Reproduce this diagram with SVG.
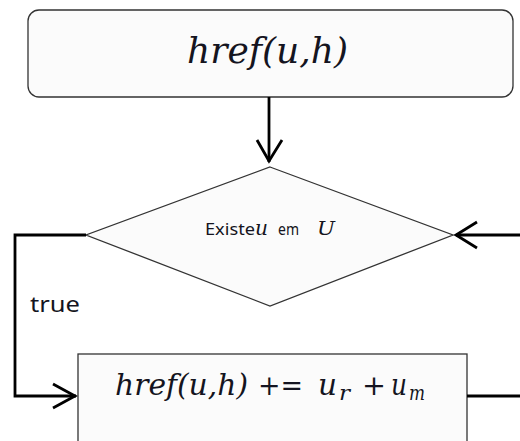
<svg xmlns="http://www.w3.org/2000/svg" width="520" height="441" viewBox="0 0 520 441">
<style>
.shape{fill:#fbfbfb;stroke:#333;stroke-width:1.3}
.conn{fill:none;stroke:#000;stroke-width:2.8;stroke-linejoin:miter}
.head{fill:none;stroke:#000;stroke-width:2.8;stroke-linecap:butt;stroke-linejoin:miter}
.math{font-family:"DejaVu Serif","Liberation Serif",serif;font-style:italic;fill:#141420}
.mathu{font-family:"DejaVu Serif","Liberation Serif",serif;fill:#141420}
.sans{font-family:"Noto Sans","Open Sans",sans-serif;fill:#141420}
</style>
<rect width="520" height="441" fill="#fff"/>
<g id="start">
<rect class="shape" x="28" y="10" width="485" height="87" rx="11"/>
<text class="math" x="187" y="63" font-size="35" textLength="161" lengthAdjust="spacingAndGlyphs">href(u,h)</text>
</g>
<g id="decision">
<polygon class="shape" points="270,167 453,235 270,306 86,235"/>
<text class="sans" x="205" y="235" font-size="16" textLength="50" lengthAdjust="spacingAndGlyphs">Existe</text>
<text class="math" x="255" y="235" font-size="20" textLength="13" lengthAdjust="spacingAndGlyphs">u</text>
<text class="sans" x="278" y="235" font-size="16" textLength="21" lengthAdjust="spacingAndGlyphs">em</text>
<text class="math" x="317" y="235" font-size="19" textLength="18" lengthAdjust="spacingAndGlyphs">U</text>
</g>
<g id="update">
<rect class="shape" x="78" y="354" width="389" height="100"/>
<text class="math" x="115" y="395" font-size="30" textLength="133" lengthAdjust="spacingAndGlyphs">href(u,h)</text>
<text class="mathu" x="258" y="395" font-size="28" textLength="45" lengthAdjust="spacingAndGlyphs">+=</text>
<text class="math" x="318" y="395" font-size="30" textLength="19" lengthAdjust="spacingAndGlyphs">u</text>
<text class="math" x="339" y="400" font-size="20" textLength="11" lengthAdjust="spacingAndGlyphs">r</text>
<text class="mathu" x="362" y="395" font-size="28" textLength="24" lengthAdjust="spacingAndGlyphs">+</text>
<text class="math" x="391" y="395" font-size="30" textLength="16" lengthAdjust="spacingAndGlyphs">u</text>
<text class="math" x="409" y="400" font-size="20" textLength="16" lengthAdjust="spacingAndGlyphs">m</text>
</g>
<g id="connectors">
<line class="conn" x1="269" y1="97" x2="269" y2="162"/>
<polyline class="head" points="257,140 269,161 282,140"/>
<polyline class="conn" points="86,235 15,235 15,396 76,396"/>
<polyline class="head" points="53,384 75,396 53,408"/>
<line class="conn" x1="520" y1="235" x2="456" y2="235"/>
<polyline class="head" points="477,222 456,235 477,248"/>
<line class="conn" x1="467" y1="396" x2="520" y2="396"/>
<text class="sans" x="30" y="312" font-size="22" textLength="50" lengthAdjust="spacingAndGlyphs">true</text>
</g>
</svg>
